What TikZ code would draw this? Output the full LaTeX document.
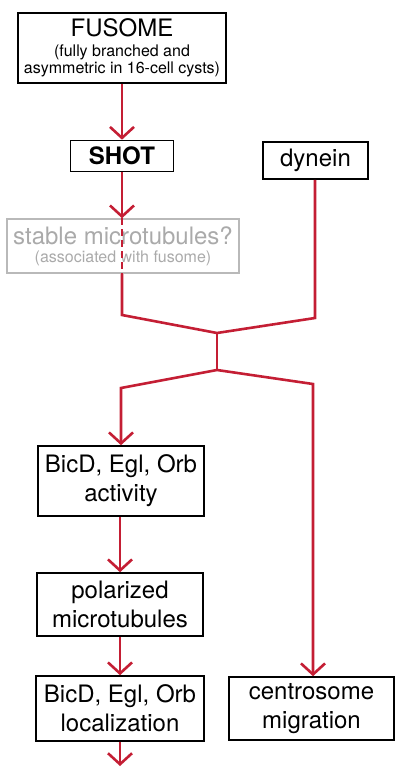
\documentclass[tikz,border=0pt]{standalone}
\usepackage{fontspec}
\setmainfont{TeX Gyre Heros}
\usetikzlibrary{arrows.meta}
\definecolor{arrowred}{RGB}{196,30,52}
\definecolor{boxgray}{RGB}{185,185,185}
\definecolor{textgray}{RGB}{170,170,170}
\newcommand{\bigf}{\fontsize{24}{29}\selectfont}
\newcommand{\smallf}{\fontsize{16}{17}\selectfont}
\tikzset{
  box/.style={draw=black, line width=1.6pt, inner sep=0pt, align=center, font=\bigf},
  graybox/.style={draw=boxgray, line width=1.5pt, inner sep=0pt, align=center, text=textgray},
  redline/.style={draw=arrowred, line width=2.6pt},
  redarrow/.style={redline, -{Straight Barb[length=11pt,width=24pt]}},
}
\begin{document}
\begin{tikzpicture}[x=1pt,y=-1pt]
\useasboundingbox (0,0) rectangle (395,767);
% boxes
\node[box, minimum width=208pt, minimum height=70pt, font=\smallf] (fusome) at (122,48)
  {{\bigf FUSOME}\\[3pt](fully branched and\\asymmetric in 16-cell cysts)};
\node[box, minimum width=103pt, minimum height=31pt, font=\bigf\bfseries] (shot) at (122,156) {SHOT};
\node[box, minimum width=105pt, minimum height=37pt] (dynein) at (315.5,160.5) {dynein};
\node[graybox, minimum width=232pt, minimum height=54pt, font=\smallf] (stable) at (123,246)
  {{\bigf stable microtubules?}\\[1pt](associated with fusome)};
\node[box, minimum width=166pt, minimum height=70pt] (act) at (121,481) {BicD, Egl, Orb\\activity};
\node[box, minimum width=166pt, minimum height=63pt] (pol) at (120,604.5) {polarized\\microtubules};
\node[box, minimum width=168pt, minimum height=65pt] (loc) at (120,708.5) {BicD, Egl, Orb\\localization};
\node[box, minimum width=165pt, minimum height=63pt] (centro) at (311.5,708.5) {centrosome\\migration};
% junction coordinates
\coordinate (cL) at (122,315);
\coordinate (cR) at (315,318);
\coordinate (j1) at (217,333);
\coordinate (j2) at (217,370);
\coordinate (dL) at (121,388);
\coordinate (dR) at (313,384);
\coordinate (endarrow) at (120,766);
% connectors
\draw[redarrow] (fusome.south -| shot.north) -- (shot.north);
\draw[redarrow] (shot.south) -- (stable.north -| shot.south);
\draw[redline, dash pattern=on 7pt off 4pt] (stable.north -| shot.south) -- (stable.south -| shot.south);
\draw[redline, line join=miter] (stable.south -| cL) -- (cL) -- (j1) -- (cR) -- (dynein.south -| cR);
\draw[redline] (j1) -- (j2);
\draw[redarrow, line join=miter] (j2) -- (dL) -- (act.north -| dL);
\draw[redarrow, line join=miter] (j2) -- (dR) -- (centro.north -| dR);
\draw[redarrow] (act.south -| pol.north) -- (pol.north);
\draw[redarrow] (pol.south) -- (loc.north);
\draw[redarrow] (loc.south) -- (endarrow);
\end{tikzpicture}
\end{document}
